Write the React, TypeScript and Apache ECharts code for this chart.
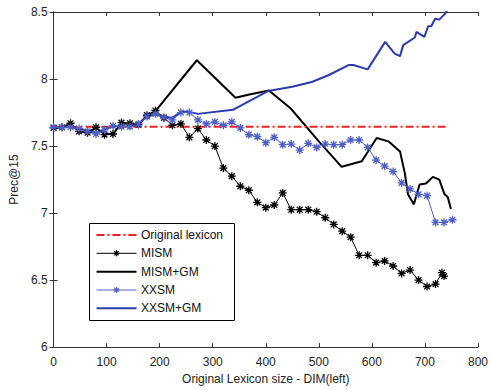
import React, { useEffect, useRef } from "react";
import * as echarts from "echarts";

// ---------- data ----------
const ORIG_X = [0, 740];
const ORIG_Y = [7.643, 7.643];

const MISM_X = [0, 16, 32, 48, 64, 80, 96, 112, 128, 144, 160, 176, 192, 208, 224, 240, 256, 272, 288, 304, 320, 336, 352, 368, 384, 400, 416, 432, 448, 464, 480, 496, 512, 528, 544, 560, 576, 592, 608, 624, 640, 656, 672, 688, 704, 720, 732, 736];
const MISM_Y = [7.635, 7.64, 7.67, 7.61, 7.6, 7.64, 7.585, 7.59, 7.675, 7.67, 7.66, 7.73, 7.765, 7.71, 7.655, 7.665, 7.565, 7.63, 7.545, 7.5, 7.335, 7.275, 7.2, 7.17, 7.08, 7.04, 7.06, 7.15, 7.025, 7.025, 7.025, 7.01, 6.965, 6.915, 6.865, 6.82, 6.685, 6.685, 6.63, 6.643, 6.605, 6.55, 6.575, 6.5, 6.452, 6.47, 6.555, 6.53];

const MISMGM_X = [0, 16, 32, 48, 64, 80, 96, 112, 128, 144, 160, 176, 192, 270, 343, 369, 406, 447, 500, 543, 581, 609, 631, 653, 662, 668, 679, 690, 702, 715, 727, 737, 743, 749];
const MISMGM_Y = [7.635, 7.64, 7.665, 7.61, 7.6, 7.635, 7.59, 7.59, 7.67, 7.665, 7.66, 7.725, 7.76, 8.14, 7.86, 7.885, 7.915, 7.78, 7.535, 7.345, 7.387, 7.56, 7.535, 7.46, 7.3, 7.14, 7.065, 7.213, 7.22, 7.27, 7.25, 7.14, 7.12, 7.03];

const XXSM_X = [0, 16, 32, 48, 64, 80, 96, 112, 128, 144, 160, 176, 192, 208, 224, 240, 256, 272, 288, 304, 320, 336, 352, 368, 384, 400, 416, 432, 448, 464, 480, 496, 512, 528, 544, 560, 576, 592, 608, 624, 640, 656, 672, 688, 704, 720, 736, 752];
const XXSM_Y = [7.64, 7.64, 7.64, 7.63, 7.61, 7.59, 7.62, 7.65, 7.645, 7.645, 7.665, 7.72, 7.74, 7.715, 7.695, 7.75, 7.75, 7.695, 7.665, 7.68, 7.655, 7.68, 7.635, 7.585, 7.57, 7.525, 7.565, 7.51, 7.515, 7.47, 7.52, 7.49, 7.515, 7.51, 7.51, 7.545, 7.545, 7.49, 7.395, 7.35, 7.31, 7.225, 7.18, 7.14, 7.13, 6.93, 6.93, 6.95];

const XXSMGM_X = [0, 16, 32, 48, 64, 80, 96, 112, 128, 144, 160, 176, 192, 208, 224, 240, 256, 272, 338, 404, 450, 488, 519, 556, 565, 592, 625, 643, 653, 659, 681, 684, 699, 706, 712, 719, 727, 738, 746];
const XXSMGM_Y = [7.64, 7.64, 7.64, 7.63, 7.615, 7.6, 7.62, 7.65, 7.645, 7.645, 7.665, 7.72, 7.735, 7.72, 7.71, 7.755, 7.755, 7.74, 7.77, 7.91, 7.943, 7.98, 8.03, 8.104, 8.104, 8.072, 8.277, 8.19, 8.171, 8.253, 8.31, 8.351, 8.314, 8.394, 8.394, 8.45, 8.443, 8.488, 8.54];

const X_TICKS = [0, 100, 200, 300, 400, 500, 600, 700, 800];
const Y_TICKS = [6, 6.5, 7, 7.5, 8, 8.5];

const NAMES = ["Original lexicon", "MISM", "MISM+GM", "XXSM", "XXSM+GM"];
const COLORS = ["#f02020", "#000000", "#000000", "#4d60c8", "#2a3cac"];
const WIDTHS = [2, 1, 2, 1, 2];
const HAS_STAR = [false, true, false, true, false];
const DASH: (number[] | null)[] = [[8, 3, 2, 3], null, null, null, null];

const pairs = (xs: number[], ys: number[]) => xs.map((x, i) => [x, ys[i]]);

const STAR = "path://M0,-5L0,5M-5,0L5,0M-3.6,-3.6L3.6,3.6M-3.6,3.6L3.6,-3.6";
const FONT = "'Liberation Sans', Arial, Helvetica, sans-serif";

function legendGraphic() {
  const children: any[] = [];
  const W = 145;
  const H = 97;
  children.push({
    type: "rect",
    shape: { x: 0.5, y: 0.5, width: W, height: H },
    style: { fill: "#fff", stroke: "#000", lineWidth: 1 },
  });
  const rowY = [12, 30.3, 48.7, 67, 85.3];
  NAMES.forEach((name, i) => {
    const y = rowY[i];
    children.push({
      type: "line",
      shape: { x1: 7.5, y1: y, x2: 47.5, y2: y },
      style: {
        stroke: COLORS[i],
        lineWidth: WIDTHS[i],
        lineDash: DASH[i] || undefined,
      },
    });
    if (HAS_STAR[i]) {
      const cx = 27.5;
      const r = 3;
      const d = 2.1;
      const segs = [
        [cx, y - r, cx, y + r],
        [cx - r, y, cx + r, y],
        [cx - d, y - d, cx + d, y + d],
        [cx - d, y + d, cx + d, y - d],
      ];
      segs.forEach((s) =>
        children.push({
          type: "line",
          shape: { x1: s[0], y1: s[1], x2: s[2], y2: s[3] },
          style: { stroke: COLORS[i], lineWidth: 1.2 },
        })
      );
    }
    children.push({
      type: "text",
      x: 52,
      y,
      style: {
        text: name,
        fill: "#111",
        font: `12px ${FONT}`,
        verticalAlign: "middle",
        align: "left",
      },
    });
  });
  return { type: "group", left: 89, top: 223, z: 100, children };
}

export default function App() {
  const ref = useRef<HTMLDivElement>(null);
  useEffect(() => {
    if (!ref.current) return;
    const chart = echarts.init(ref.current, undefined, { renderer: "svg" });
    const axisCommon = {
      axisLine: { lineStyle: { color: "#333", width: 1 } },
      axisTick: { inside: true, length: 4, lineStyle: { color: "#333" } },
      splitLine: { show: false },
    };
    const seriesData = [
      pairs(ORIG_X, ORIG_Y),
      pairs(MISM_X, MISM_Y),
      pairs(MISMGM_X, MISMGM_Y),
      pairs(XXSM_X, XXSM_Y),
      pairs(XXSMGM_X, XXSMGM_Y),
    ];
    const order = [2, 4, 0, 1, 3];
    const zs = [4, 5, 3, 5, 3];
    chart.setOption({
      animation: false,
      backgroundColor: "#fff",
      textStyle: { fontFamily: FONT },
      grid: { left: 52, top: 12, right: 10, bottom: 42 },
      graphic: [legendGraphic()],
      xAxis: [
        {
          type: "value",
          min: X_TICKS[0],
          max: X_TICKS[X_TICKS.length - 1],
          interval: 100,
          position: "bottom",
          name: "Original Lexicon size - DIM(left)",
          nameLocation: "middle",
          nameGap: 22,
          nameTextStyle: { fontSize: 12, color: "#222", fontFamily: FONT },
          axisLabel: { fontSize: 12, color: "#222", margin: 9, fontFamily: FONT },
          ...axisCommon,
        },
        {
          type: "value",
          min: X_TICKS[0],
          max: X_TICKS[X_TICKS.length - 1],
          interval: 100,
          position: "top",
          axisLabel: { show: false },
          ...axisCommon,
        },
      ],
      yAxis: [
        {
          type: "value",
          min: Y_TICKS[0],
          max: Y_TICKS[Y_TICKS.length - 1],
          interval: 0.5,
          position: "left",
          name: "Prec@15",
          nameLocation: "middle",
          nameGap: 27,
          nameTextStyle: { fontSize: 12, color: "#222", fontFamily: FONT },
          axisLabel: { fontSize: 12, color: "#222", margin: 6, fontFamily: FONT },
          ...axisCommon,
        },
        {
          type: "value",
          min: Y_TICKS[0],
          max: Y_TICKS[Y_TICKS.length - 1],
          interval: 0.5,
          position: "right",
          axisLabel: { show: false },
          ...axisCommon,
        },
      ],
      series: order.map((i) => ({
        name: NAMES[i],
        type: "line",
        data: seriesData[i],
        symbol: HAS_STAR[i] ? STAR : "none",
        symbolSize: 8,
        lineStyle: {
          color: COLORS[i],
          width: WIDTHS[i],
          type: DASH[i] || "solid",
        },
        itemStyle: { color: COLORS[i], borderColor: COLORS[i], borderWidth: 1.3 },
        z: zs[i],
      })),
    });
    return () => chart.dispose();
  }, []);
  return (
    <div
      ref={ref}
      style={{ position: "fixed", left: 0, top: 0, width: 491, height: 390, background: "#fff" }}
    />
  );
}
